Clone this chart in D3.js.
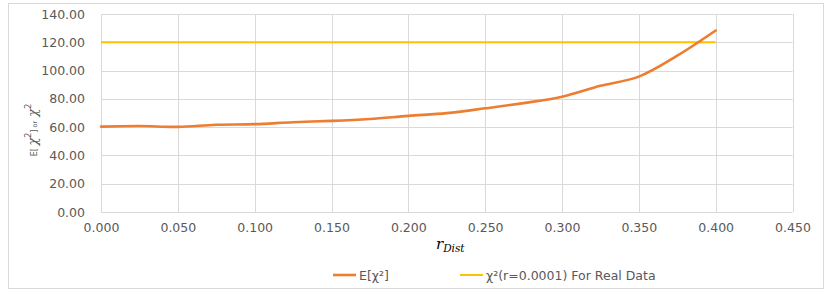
<!DOCTYPE html>
<html>
<head>
<meta charset="utf-8">
<script src="https://cdn.jsdelivr.net/npm/d3@7"></script>
<style>
  body { margin: 0; background: #fff; }
  svg text { font-family: "DejaVu Sans", Verdana, sans-serif; fill: #595959; }
</style>
</head>
<body>
<svg id="chart"></svg>
<script>
// data
const rDist = [0.000, 0.025, 0.050, 0.075, 0.100, 0.125, 0.150, 0.175, 0.200, 0.225, 0.250, 0.275, 0.300, 0.325, 0.350, 0.375, 0.400];
const expectedChi2 = [60.4, 60.8, 60.2, 61.7, 62.1, 63.5, 64.4, 65.8, 68.0, 69.9, 73.3, 77.0, 81.5, 89.2, 95.7, 110.5, 128.3];
const realR = [0.000, 0.400];
const realChi2 = [120, 120];
const xTicks = [0, 0.05, 0.1, 0.15, 0.2, 0.25, 0.3, 0.35, 0.4, 0.45];
const yTicks = [0, 20, 40, 60, 80, 100, 120, 140];

var width = 831, height = 292;
var svg = d3.select("#chart").attr("width", width).attr("height", height);

// chart frame
svg.append("rect")
  .attr("x", 8.5).attr("y", 3.5)
  .attr("width", 815).attr("height", 285)
  .attr("fill", "#fff").attr("stroke", "#d9d9d9");

var x = d3.scaleLinear().domain([0, 0.45]).range([101, 792.5]);
var y = d3.scaleLinear().domain([0, 140]).range([212, 14]);

// grid
svg.append("g").selectAll("line").data(yTicks).enter().append("line")
  .attr("x1", x(0)).attr("x2", x(0.45))
  .attr("y1", d => Math.round(y(d)) + 0.5).attr("y2", d => Math.round(y(d)) + 0.5)
  .attr("stroke", "#d9d9d9").attr("stroke-width", 1);
svg.append("g").selectAll("line").data(xTicks).enter().append("line")
  .attr("x1", d => Math.round(x(d)) + 0.5).attr("x2", d => Math.round(x(d)) + 0.5)
  .attr("y1", y(140)).attr("y2", y(0))
  .attr("stroke", "#d9d9d9").attr("stroke-width", 1);

// axes (labels only, Excel style)
var yAxis = svg.append("g").attr("transform", "translate(" + x(0) + ",0)")
  .call(d3.axisLeft(y).tickValues(yTicks).tickFormat(d3.format(".2f")).tickSize(0).tickPadding(16));
yAxis.select(".domain").remove();
yAxis.selectAll("text").style("font-size", "12.5px").attr("fill", "#595959");

var xAxis = svg.append("g").attr("transform", "translate(0," + y(0) + ")")
  .call(d3.axisBottom(x).tickValues(xTicks).tickFormat(d3.format(".3f")).tickSize(0).tickPadding(11));
xAxis.select(".domain").remove();
xAxis.selectAll("text").style("font-size", "12.5px").attr("fill", "#595959");

// series
var line = d3.line().x(d => x(d[0])).y(d => y(d[1]));

svg.append("path")
  .datum(d3.zip(realR, realChi2))
  .attr("d", line)
  .attr("fill", "none").attr("stroke", "#ffc000").attr("stroke-width", 2);

svg.append("path")
  .datum(d3.zip(rDist, expectedChi2))
  .attr("d", line.curve(d3.curveCatmullRom.alpha(0.5)))
  .attr("fill", "none").attr("stroke", "#ed7d31").attr("stroke-width", 2.6)
  .attr("stroke-linecap", "round");

// axis titles
var xt = svg.append("text").attr("x", 436).attr("y", 249)
  .style("font-family", "'DejaVu Serif', 'Liberation Serif', serif").style("fill", "#000");
xt.append("tspan").text("r").style("font-size", "15px").style("font-style", "italic");
xt.append("tspan").text("Dist").attr("dy", 3).style("font-size", "10.5px").style("font-style", "italic");

var yt = svg.append("text")
  .attr("transform", "translate(37,130) rotate(-90)")
  .attr("text-anchor", "middle");
yt.append("tspan").text("E[ ").style("font-size", "8px");
yt.append("tspan").text("χ").style("font-size", "13px").style("font-style", "italic").style("font-family", "'DejaVu Serif', serif");
yt.append("tspan").text("2").attr("dy", -6).style("font-size", "8px");
yt.append("tspan").text("]").attr("dy", 6).style("font-size", "8px");
yt.append("tspan").text(" or").style("font-size", "6.5px");
yt.append("tspan").text(" χ").style("font-size", "13px").style("font-style", "italic").style("font-family", "'DejaVu Serif', serif");
yt.append("tspan").text("2").attr("dy", -6).style("font-size", "8px");

// legend
var legend = [
  {color: "#ed7d31", x: 333, label: "E[χ²]", w: 2.6},
  {color: "#ffc000", x: 460, label: "χ²(r=0.0001) For Real Data", w: 2}
];
var lg = svg.append("g").selectAll("g").data(legend).enter().append("g");
lg.append("line")
  .attr("x1", d => d.x).attr("x2", d => d.x + 23)
  .attr("y1", 275).attr("y2", 275)
  .attr("stroke", d => d.color).attr("stroke-width", d => d.w);
lg.append("text")
  .attr("x", d => d.x + 26).attr("y", 279.5)
  .style("font-size", "12.5px")
  .text(d => d.label);
</script>
</body>
</html>
